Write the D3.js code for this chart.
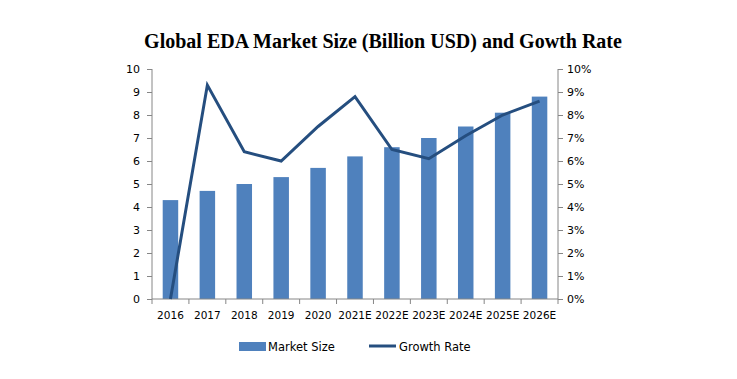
<!DOCTYPE html>
<html><head><meta charset="utf-8">
<script src="https://cdn.jsdelivr.net/npm/d3@7"></script>
<style>body{margin:0;background:#fff}</style>
</head><body>
<svg id="c" width="737" height="379"></svg>
<script>
const categories = ["2016","2017","2018","2019","2020","2021E","2022E","2023E","2024E","2025E","2026E"];
const marketSize = [4.3,4.7,5.0,5.3,5.7,6.2,6.6,7.0,7.5,8.1,8.8];
const growthRate = [0,9.3,6.4,6.0,7.5,8.8,6.5,6.1,7.1,8.0,8.6];
const leftTicks = [0,1,2,3,4,5,6,7,8,9,10];
const rightTicks = [0,1,2,3,4,5,6,7,8,9,10];
const titleText = "Global EDA Market Size (Billion USD) and Gowth Rate";

const svg = d3.select("#c");
const L = 152, R = 558, T = 69, B = 299;
const x = d3.scaleBand().domain(categories).range([L, R]).paddingInner(0.58).paddingOuter(0.29);
const xb = d3.scaleBand().domain(categories).range([L, R]);
const yL = d3.scaleLinear().domain([0,10]).range([B, T]);
const yR = d3.scaleLinear().domain([0,10]).range([B, T]);
const font = "Verdana, 'DejaVu Sans', sans-serif";
const axisCol = "#868686";

svg.append("text").attr("x", 383).attr("y", 48).attr("text-anchor","middle")
  .attr("font-family","'Liberation Serif','Times New Roman',serif").attr("font-weight","bold")
  .attr("font-size",20).attr("word-spacing",0).text(titleText);

// bars
svg.append("g").selectAll("rect").data(marketSize).join("rect")
  .attr("x",(d,i)=>x(categories[i])).attr("width",x.bandwidth())
  .attr("y",d=>yL(d)).attr("height",d=>B-yL(d)).attr("fill","#4F81BD");

// left axis
const gl = svg.append("g").attr("transform",`translate(${L},0)`)
  .call(d3.axisLeft(yL).tickValues(leftTicks).tickSize(5).tickPadding(7).tickFormat(d3.format("d")));
// right axis
const gr = svg.append("g").attr("transform",`translate(${R},0)`)
  .call(d3.axisRight(yR).tickValues(rightTicks).tickSize(5).tickPadding(4).tickFormat(d=>d+"%"));
// x axis
const gx = svg.append("g").attr("transform",`translate(0,${B})`)
  .call(d3.axisBottom(xb).tickSize(0).tickPadding(13));
gx.selectAll(".tick line").remove();
const bounds = categories.map(c=>xb(c)).concat([R]);
gx.append("g").selectAll("line").data(bounds).join("line")
  .attr("x1",d=>d).attr("x2",d=>d).attr("y1",0).attr("y2",5).attr("stroke",axisCol);

[gl,gr,gx].forEach(g=>{
  g.selectAll(".domain").attr("stroke",axisCol);
  g.selectAll(".tick line").attr("stroke",axisCol);
  g.selectAll("text").attr("font-family",font).attr("font-size",11).attr("fill","#000");
});
gx.selectAll("text").attr("font-size",10.5);
gl.select(".domain").attr("d",`M0,${T}V${B}`);
gr.select(".domain").attr("d",`M0,${T}V${B}`);
gx.select(".domain").attr("d",`M${L},0H${R}`);

// line
const line = d3.line().x((d,i)=>xb(categories[i])+xb.bandwidth()/2).y(d=>yR(d));
svg.append("path").datum(growthRate).attr("d",line).attr("fill","none")
  .attr("stroke","#254E7F").attr("stroke-width",3).attr("stroke-linejoin","miter");

// legend
const lg = svg.append("g").attr("font-family",font).attr("font-size",11.5);
lg.append("rect").attr("x",239).attr("y",342).attr("width",27).attr("height",9).attr("fill","#4F81BD");
lg.append("text").attr("x",268).attr("y",350.5).text("Market Size");
lg.append("line").attr("x1",369).attr("x2",396).attr("y1",346).attr("y2",346).attr("stroke","#254E7F").attr("stroke-width",3);
lg.append("text").attr("x",399).attr("y",350.5).text("Growth Rate");
</script>
</body></html>
